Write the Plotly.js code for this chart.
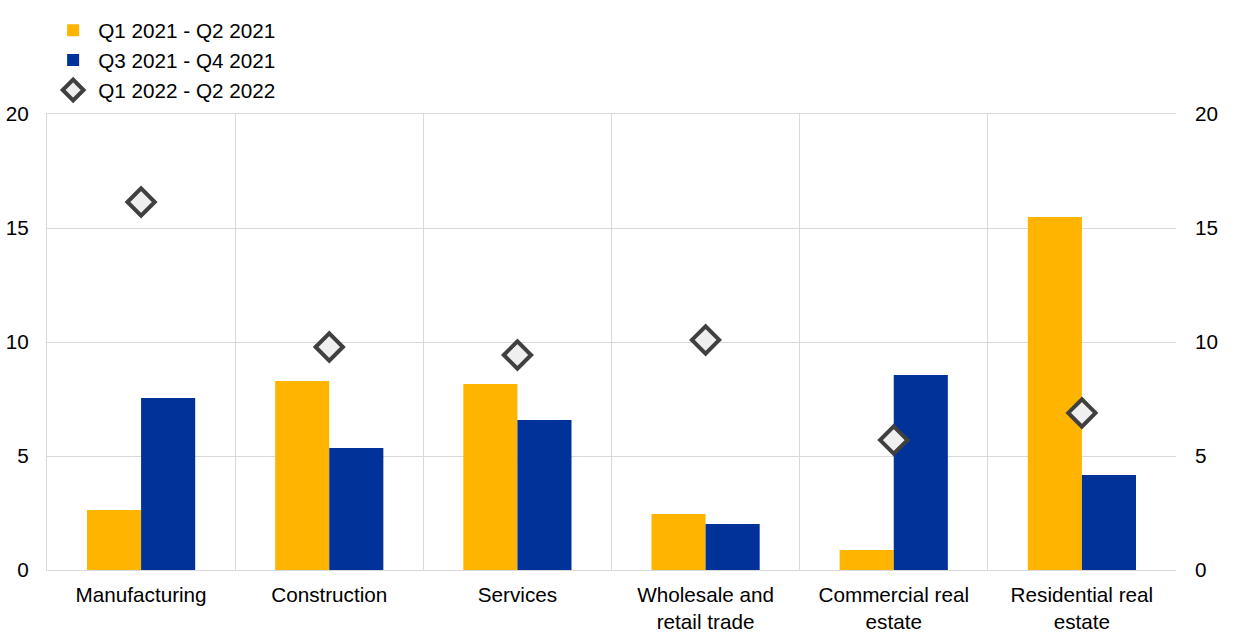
<!DOCTYPE html>
<html><head><meta charset="utf-8">
<script src="https://cdn.plot.ly/plotly-3.0.1.min.js"></script>
<style>html,body{margin:0;padding:0;background:#fff}</style>
</head><body>
<div id="chart" style="width:1240px;height:640px"></div>
<script>
const categories = ["Manufacturing","Construction","Services","Wholesale and<br>retail trade","Commercial real<br>estate","Residential real<br>estate"];
const seriesNames = ["Q1 2021 - Q2 2021","Q3 2021 - Q4 2021","Q1 2022 - Q2 2022"];
const h1_2021 = [2.63, 8.29, 8.16, 2.46, 0.88, 15.48];
const h2_2021 = [7.54, 5.35, 6.58, 2.02, 8.55, 4.17];
const h1_2022 = [16.14, 9.78, 9.43, 10.09, 5.70, 6.89];
const yTicks = [0, 5, 10, 15, 20];

const font = {family: "Liberation Sans, Arial, sans-serif", size: 20.7, color: "#000"};
const traces = [
  {type:"bar", name: seriesNames[0], x: categories, y: h1_2021, marker:{color:"#FFB400"}},
  {type:"bar", name: seriesNames[1], x: categories, y: h2_2021, marker:{color:"#003299"}},
  {type:"scatter", mode:"markers", name: seriesNames[2], x: categories, y: h1_2022,
   marker:{symbol:"diamond", size:21, color:"#EFEFEF", line:{color:"#404040", width:4}}},
  {type:"scatter", mode:"markers", x:[categories[0]], y:[0], yaxis:"y2", showlegend:false, hoverinfo:"skip",
   marker:{opacity:0}}
];
const layout = {
  width:1240, height:640,
  margin:{l:47, r:64, t:114, b:70},
  paper_bgcolor:"#fff", plot_bgcolor:"#fff",
  font: font,
  barmode:"group", bargap:0.425, bargroupgap:0,
  showlegend:true,
  legend:{x:0.001, xref:"paper", y:0.984, yref:"container", xanchor:"left", yanchor:"top",
          font:font, tracegroupgap:0, itemwidth:40, bgcolor:"rgba(0,0,0,0)"},
  xaxis:{type:"category", tickson:"boundaries", showgrid:true, gridcolor:"#d9d9d9", gridwidth:1,
         ticks:"", showline:true, linecolor:"#d9d9d9", mirror:true, tickfont:font, automargin:false,
         ticklabelstandoff:6},
  yaxis:{range:[0,20], tickvals:yTicks, showgrid:true, gridcolor:"#d9d9d9", zeroline:false,
         showline:true, linecolor:"#d9d9d9", ticks:"", tickfont:font, ticklabelstandoff:13, automargin:false},
  yaxis2:{range:[0,20], tickvals:yTicks, overlaying:"y", side:"right", showgrid:false, zeroline:false,
          ticks:"", tickfont:font, ticklabelstandoff:18, automargin:false}
};
Plotly.newPlot("chart", traces, layout, {displayModeBar:false, staticPlot:true});
</script>
</body></html>
